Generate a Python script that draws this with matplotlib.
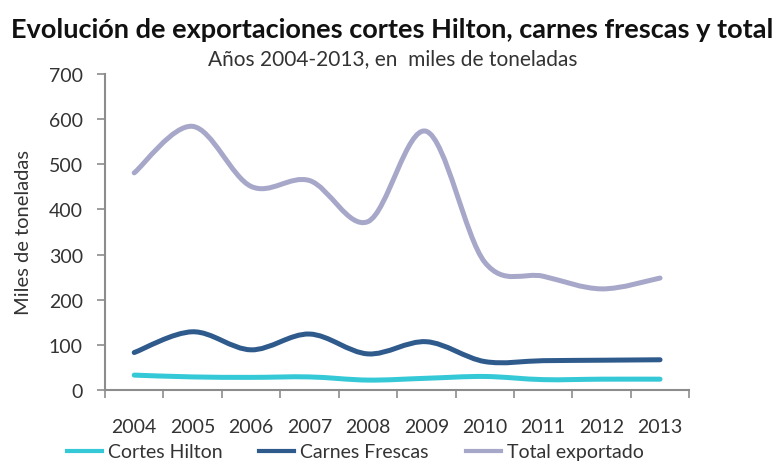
import matplotlib
matplotlib.use("Agg")
import matplotlib.pyplot as plt
from matplotlib.path import Path
from matplotlib.patches import PathPatch
from matplotlib.lines import Line2D

# data (miles de toneladas)
years = ["2004", "2005", "2006", "2007", "2008", "2009", "2010", "2011", "2012", "2013"]
cortes_hilton = [33, 29, 28, 29, 22, 26, 30, 23, 24, 24]
carnes_frescas = [83, 129, 89, 124, 80, 107, 63, 65, 66, 67]
total_exportado = [481, 584, 451, 464, 373, 573, 283, 252, 224, 248]

series = [
    ("Cortes Hilton", cortes_hilton, "#35c8d6"),
    ("Carnes Frescas", carnes_frescas, "#2f5a8c"),
    ("Total exportado", total_exportado, "#a7a7c9"),
]

plt.rcParams['font.family'] = ['Lato', 'DejaVu Sans']
text_color = "#333333"
axis_color = "#8c8c8c"


def smooth_path(xs, ys):
    """Excel-style smoothed line: cubic bezier through every data point."""
    pts = list(zip(xs, ys))
    verts = [pts[0]]
    codes = [Path.MOVETO]
    n = len(pts)
    for i in range(n - 1):
        p0 = pts[i - 1] if i > 0 else pts[i]
        p1 = pts[i]
        p2 = pts[i + 1]
        p3 = pts[i + 2] if i + 2 < n else pts[i + 1]
        c1 = (p1[0] + (p2[0] - p0[0]) / 6.0, p1[1] + (p2[1] - p0[1]) / 6.0)
        c2 = (p2[0] - (p3[0] - p1[0]) / 6.0, p2[1] - (p3[1] - p1[1]) / 6.0)
        verts += [c1, c2, p2]
        codes += [Path.CURVE4] * 3
    return Path(verts, codes)


fig = plt.figure(figsize=(7.79, 4.64), dpi=100)
ax = fig.add_axes([0.1348, 0.1573, 0.75, 0.6811])

x = list(range(len(years)))
for name, vals, color in series:
    patch = PathPatch(smooth_path(x, vals), facecolor="none", edgecolor=color,
                      lw=3.6, capstyle="round", joinstyle="round")
    ax.add_patch(patch)

ax.set_xlim(-0.5, len(years) - 0.5)
ax.set_ylim(0, 700)
ax.set_yticks(range(0, 701, 100))
ax.set_xticks(x)
ax.set_xticklabels(years)
ax.set_xticks([i - 0.5 for i in range(len(years) + 1)], minor=True)
ax.tick_params(axis="x", which="major", length=0, pad=20, labelsize=14,
               labelcolor=text_color)
ax.tick_params(axis="x", which="minor", length=6, width=1.2, color=axis_color)
ax.tick_params(axis="y", length=6, width=1.2, color=axis_color, pad=10,
               labelsize=14, labelcolor=text_color)

for side in ("top", "right"):
    ax.spines[side].set_visible(False)
for side in ("left", "bottom"):
    ax.spines[side].set_color(axis_color)
    ax.spines[side].set_linewidth(1.5)

ax.set_ylabel("Miles de toneladas", fontsize=14.5, color=text_color, labelpad=12)

fig.text(0.503, 0.935, "Evolución de exportaciones cortes Hilton, carnes frescas y total",
         ha="center", va="center", fontsize=19.5, fontweight="bold", color="#111111")
fig.text(0.504, 0.873, "Años 2004-2013, en  miles de toneladas",
         ha="center", va="center", fontsize=15, color=text_color)

handles = [Line2D([], [], color=c, lw=3.0) for _, _, c in series]
fig.legend(handles, [n for n, _, _ in series], loc="lower center",
           bbox_to_anchor=(0.456, -0.032), ncol=3, frameon=False,
           fontsize=14, handlelength=1.8, handletextpad=0.3,
           columnspacing=1.9, labelcolor=text_color)

fig.savefig("out.png", dpi=100)
